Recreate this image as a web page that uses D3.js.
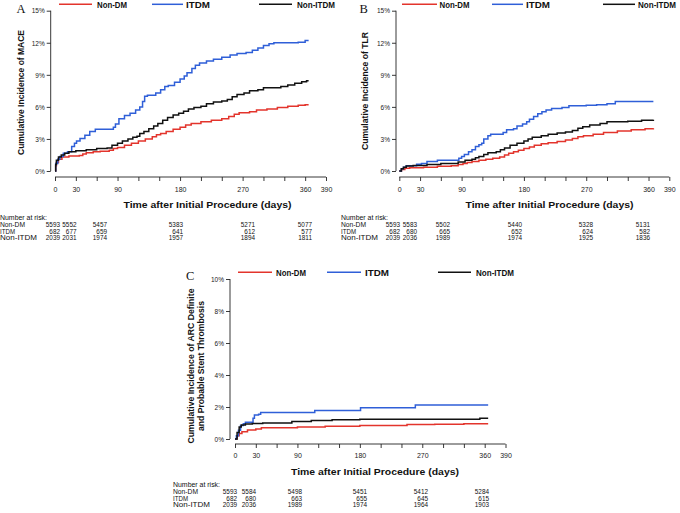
<!DOCTYPE html>
<html><head><meta charset="utf-8">
<script src="https://cdn.jsdelivr.net/npm/d3@7"></script>
<style>body{margin:0;background:#fff} svg{display:block}</style>
</head><body>
<svg id="c" width="680" height="513"></svg>
<script>
// ---------- data ----------
const seriesNames = ["Non-DM", "ITDM", "Non-ITDM"];
const seriesColors = ["#e3342c", "#2f5fd8", "#111111"];
const dayTicks = d3.range(0, 391, 30);
const dayLabels = [0, 30, 90, 180, 270, 360, 390];
const riskLabel = "Number at risk:";

// Panel A: MACE (% cumulative incidence, [day, value])
const A_NonDM = [[0,0],[1,0.5],[2,0.8],[5,1.1],[10,1.3],[20,1.4],[35,1.45],[40,1.6],[45,1.7],[55,1.8],[65,1.85],[78,1.95],[84,2.1],[90,2.2],[100,2.4],[110,2.6],[120,2.8],[130,3.0],[140,3.2],[146,3.4],[152,3.5],[160,3.7],[170,3.9],[180,4.1],[188,4.3],[196,4.45],[210,4.6],[225,4.75],[240,4.9],[250,5.1],[258,5.3],[265,5.45],[280,5.55],[290,5.7],[305,5.8],[320,5.95],[335,6.05],[350,6.15],[360,6.2],[365,6.2]];
const A_ITDM = [[0,0],[1,0.7],[4,1.1],[7,1.35],[12,1.65],[18,1.8],[24,2.3],[28,2.6],[31,2.8],[36,3.05],[43,3.35],[50,3.7],[58,3.9],[84,4.1],[87,4.4],[92,4.9],[100,5.2],[108,5.4],[116,5.7],[122,6.0],[126,6.5],[129,7.0],[133,7.1],[145,7.3],[152,7.6],[158,7.9],[163,8.0],[172,8.3],[180,8.6],[186,8.9],[190,9.2],[197,9.6],[202,9.9],[208,10.1],[218,10.3],[228,10.45],[240,10.65],[252,10.85],[262,11.0],[275,11.1],[284,11.3],[292,11.5],[300,11.75],[308,11.9],[315,12.0],[350,12.05],[360,12.2],[365,12.2]];
const A_NonITDM = [[0,0],[1,0.6],[2,1.0],[5,1.3],[9,1.5],[14,1.65],[20,1.8],[30,1.9],[45,2.0],[60,2.1],[75,2.15],[82,2.4],[90,2.6],[97,2.8],[105,3.0],[112,3.15],[118,3.25],[122,3.5],[128,3.7],[135,3.95],[142,4.2],[148,4.45],[155,4.75],[162,5.0],[170,5.25],[178,5.4],[185,5.6],[192,5.8],[200,5.95],[210,6.05],[218,6.3],[228,6.45],[240,6.55],[248,6.7],[255,6.95],[262,7.15],[272,7.3],[280,7.5],[292,7.6],[300,7.8],[315,7.8],[325,7.9],[335,8.05],[345,8.2],[355,8.35],[362,8.45],[365,8.45]];
const A_riskNonDM = [5593, 5552, 5457, 5383, 5271, 5077];
const A_riskITDM = [682, 677, 659, 641, 612, 577];
const A_riskNonITDM = [2039, 2031, 1974, 1957, 1894, 1811];

// Panel B: TLR
const B_NonDM = [[0,0],[3,0.15],[8,0.25],[15,0.3],[35,0.35],[55,0.45],[75,0.5],[85,0.6],[92,0.7],[98,0.8],[105,0.9],[115,1.0],[125,1.1],[135,1.2],[145,1.3],[152,1.5],[158,1.65],[165,1.8],[172,1.95],[180,2.1],[188,2.25],[195,2.4],[205,2.55],[215,2.65],[228,2.75],[240,2.9],[250,3.05],[258,3.2],[266,3.3],[280,3.45],[295,3.6],[315,3.75],[335,3.85],[355,3.95],[367,4.0]];
const B_ITDM = [[0,0],[3,0.2],[6,0.35],[10,0.5],[25,0.62],[32,0.7],[40,0.9],[55,1.0],[86,1.2],[90,1.35],[94,1.55],[100,1.8],[105,2.0],[110,2.3],[115,2.45],[119,2.6],[122,3.0],[128,3.3],[132,3.45],[150,3.6],[155,3.85],[165,3.95],[170,4.2],[178,4.4],[184,4.6],[188,4.85],[194,5.1],[200,5.35],[206,5.55],[212,5.7],[220,5.85],[235,5.95],[245,6.1],[270,6.15],[285,6.2],[300,6.3],[312,6.5],[367,6.5]];
const B_NonITDM = [[0,0],[3,0.2],[6,0.35],[10,0.47],[20,0.52],[40,0.6],[60,0.7],[85,0.85],[95,1.0],[105,1.1],[110,1.25],[115,1.35],[122,1.55],[128,1.7],[140,1.8],[146,2.0],[152,2.15],[160,2.4],[170,2.6],[180,2.8],[186,3.0],[192,3.15],[205,3.3],[215,3.45],[228,3.55],[240,3.65],[250,3.8],[258,4.0],[265,4.15],[275,4.3],[290,4.45],[300,4.6],[330,4.65],[350,4.75],[367,4.8]];
const B_riskNonDM = [5593, 5583, 5502, 5440, 5328, 5131];
const B_riskITDM = [682, 680, 665, 652, 624, 582];
const B_riskNonITDM = [2039, 2036, 1989, 1974, 1925, 1836];

// Panel C: ARC definite and probable stent thrombosis
const C_NonDM = [[0,0],[3,0.2],[6,0.35],[10,0.45],[18,0.56],[30,0.62],[38,0.7],[90,0.75],[130,0.8],[180,0.84],[248,0.9],[288,0.92],[330,0.96],[365,0.96]];
const C_ITDM = [[0,0],[2,0.2],[5,0.55],[8,0.85],[12,0.95],[15,1.05],[26,1.3],[28,1.5],[34,1.55],[37,1.65],[115,1.78],[181,1.95],[260,2.12],[365,2.12]];
const C_NonITDM = [[0,0],[3,0.4],[6,0.75],[9,0.87],[15,0.93],[25,0.97],[40,1.0],[82,1.1],[110,1.15],[140,1.2],[180,1.23],[353,1.29],[365,1.29]];
const C_riskNonDM = [5593, 5584, 5498, 5451, 5412, 5284];
const C_riskITDM = [682, 680, 663, 655, 645, 615];
const C_riskNonITDM = [2039, 2036, 1989, 1974, 1964, 1903];

const A_yTicks = [0, 3, 6, 9, 12, 15];
const C_yTicks = [0, 2, 4, 6, 8, 10];

// ---------- layout ----------
const FONT = "'Liberation Sans', Arial, Helvetica, sans-serif";
const legendLen = [30, 24, 38];
const rowLabelLen = [25, 15, 37];
const panels = [
  { letter: "A", yTitle: ["Cumulative Incidence of MACE"], yTitleLen: [125], yTicks: A_yTicks,
    series: [A_NonDM, A_ITDM, A_NonITDM], risk: [A_riskNonDM, A_riskITDM, A_riskNonITDM],
    L: { x0: 55, x1: 326, yTop: 10.7, yBot: 171, axX: 50.7, axY: 177, letterX: 16.5, letterY: 12.5,
         yTitleX: [23.5], yTitleY: 92.5, legY: 4.3, legTxtY: 7.8, leg: [[59,92,97],[152,183,186],[259,292,297]],
         xTitleX: 207.5, xTitleY: 208, tickLblY: 191.5, riskX: 0, riskY: [220, 227, 233.5, 240],
         cols: [60, 76.5, 107, 183, 255, 312] } },
  { letter: "B", yTitle: ["Cumulative Incidence of TLR"], yTitleLen: [118], yTicks: A_yTicks,
    series: [B_NonDM, B_ITDM, B_NonITDM], risk: [B_riskNonDM, B_riskITDM, B_riskNonITDM],
    L: { x0: 399.3, x1: 669.3, yTop: 10.7, yBot: 171, axX: 396, axY: 177, letterX: 359.5, letterY: 12.5,
         yTitleX: [368], yTitleY: 91, legY: 4.3, legTxtY: 7.8, leg: [[402,437,439.5],[492,523,526],[603,635,638]],
         xTitleX: 549.5, xTitleY: 208, tickLblY: 191.5, riskX: 341, riskY: [220, 227, 233.5, 240],
         cols: [400, 417, 450, 522, 593, 650] } },
  { letter: "C", yTitle: ["Cumulative Incidence of ARC Definite", "and Probable Stent Thrombosis"], yTitleLen: [155, 130], yTicks: C_yTicks,
    series: [C_NonDM, C_ITDM, C_NonITDM], risk: [C_riskNonDM, C_riskITDM, C_riskNonITDM],
    L: { x0: 235, x1: 505.5, yTop: 279, yBot: 439, axX: 230, axY: 444, letterX: 186, letterY: 280,
         yTitleX: [194, 204], yTitleY: 366, legY: 272.3, legTxtY: 276, leg: [[238,272,276],[327,361,365],[438,471,476]],
         xTitleX: 375, xTitleY: 475, tickLblY: 458, riskX: 173, riskY: [487, 494, 500.5, 507],
         cols: [237, 256, 302, 367, 428, 489] } }
];

const svg = d3.select("#c");

panels.forEach(p => {
  const L = p.L;
  const yMax = d3.max(p.yTicks);
  const x = d3.scaleLinear().domain([0, 390]).range([L.x0, L.x1]);
  const y = d3.scaleLinear().domain([0, yMax]).range([L.yBot, L.yTop]);
  const g = svg.append("g");

  // y axis
  const yAxis = d3.axisLeft(y).tickValues(p.yTicks).tickSize(4).tickSizeOuter(0).tickPadding(2)
    .tickFormat(d => d + "%");
  const gy = g.append("g").attr("transform", `translate(${L.axX},0)`).call(yAxis);
  gy.select(".domain").attr("d", `M0,${y(yMax)}V${y(0)}`);
  gy.selectAll("text").attr("font-family", FONT).attr("font-size", 6.5).attr("fill", "#222").attr("dy", "0.35em");
  gy.selectAll("line, path").attr("stroke", "#222").attr("stroke-width", 0.9);

  // x axis
  const xAxis = d3.axisBottom(x).tickValues(dayTicks).tickSize(4).tickSizeOuter(0)
    .tickFormat(d => dayLabels.includes(d) ? d : "");
  const gx = g.append("g").attr("transform", `translate(0,${L.axY})`).call(xAxis);
  gx.select(".domain").attr("d", `M${x(0)},0H${x(390)}`);
  gx.selectAll("text").attr("font-family", FONT).attr("font-size", 7).attr("fill", "#222")
    .attr("dy", null).attr("y", L.tickLblY - L.axY);
  gx.selectAll("line, path").attr("stroke", "#222").attr("stroke-width", 0.9);

  // curves
  const stepLine = d3.line().x(d => x(d[0])).y(d => y(d[1])).curve(d3.curveStepAfter);
  p.series.forEach((s, i) => {
    g.append("path").attr("d", stepLine(s)).attr("fill", "none")
      .attr("stroke", seriesColors[i]).attr("stroke-width", 1.5).attr("stroke-linejoin", "miter");
  });

  // legend
  L.leg.forEach((lg, i) => {
    g.append("line").attr("x1", lg[0]).attr("x2", lg[1]).attr("y1", L.legY).attr("y2", L.legY)
      .attr("stroke", seriesColors[i]).attr("stroke-width", 1.5);
    g.append("text").attr("x", lg[2]).attr("y", L.legTxtY).text(seriesNames[i])
      .attr("textLength", legendLen[i]).attr("lengthAdjust", "spacingAndGlyphs")
      .attr("font-family", FONT).attr("font-weight", "bold").attr("font-size", 8.6).attr("fill", "#111");
  });

  // panel letter
  g.append("text").attr("x", L.letterX).attr("y", L.letterY).text(p.letter)
    .attr("font-family", "'Liberation Serif', 'Times New Roman', serif").attr("font-size", 12.5).attr("fill", "#111");

  // y title
  p.yTitle.forEach((t, i) => {
    g.append("text").attr("transform", `translate(${L.yTitleX[i]},${L.yTitleY}) rotate(-90)`)
      .attr("text-anchor", "middle").text(t)
      .attr("textLength", p.yTitleLen[i]).attr("lengthAdjust", "spacingAndGlyphs")
      .attr("font-family", FONT).attr("font-weight", "bold").attr("font-size", 8.6).attr("fill", "#111");
  });

  // x title
  g.append("text").attr("x", L.xTitleX).attr("y", L.xTitleY).attr("text-anchor", "middle")
    .text("Time after Initial Procedure (days)")
    .attr("textLength", 168).attr("lengthAdjust", "spacingAndGlyphs")
    .attr("font-family", FONT).attr("font-weight", "bold").attr("font-size", 9.5).attr("fill", "#111");

  // number at risk table
  g.append("text").attr("x", L.riskX).attr("y", L.riskY[0]).text(riskLabel)
    .attr("textLength", 47).attr("lengthAdjust", "spacingAndGlyphs")
    .attr("font-family", FONT).attr("font-size", 7).attr("fill", "#111");
  p.risk.forEach((row, i) => {
    g.append("text").attr("x", L.riskX).attr("y", L.riskY[i + 1]).text(seriesNames[i])
      .attr("textLength", rowLabelLen[i]).attr("lengthAdjust", "spacingAndGlyphs")
      .attr("font-family", FONT).attr("font-size", 7).attr("fill", "#111");
    row.forEach((v, j) => {
      g.append("text").attr("x", L.cols[j]).attr("y", L.riskY[i + 1]).attr("text-anchor", "end").text(v)
        .attr("font-family", FONT).attr("font-size", 6.4).attr("fill", "#111");
    });
  });
});
</script>
</body></html>
